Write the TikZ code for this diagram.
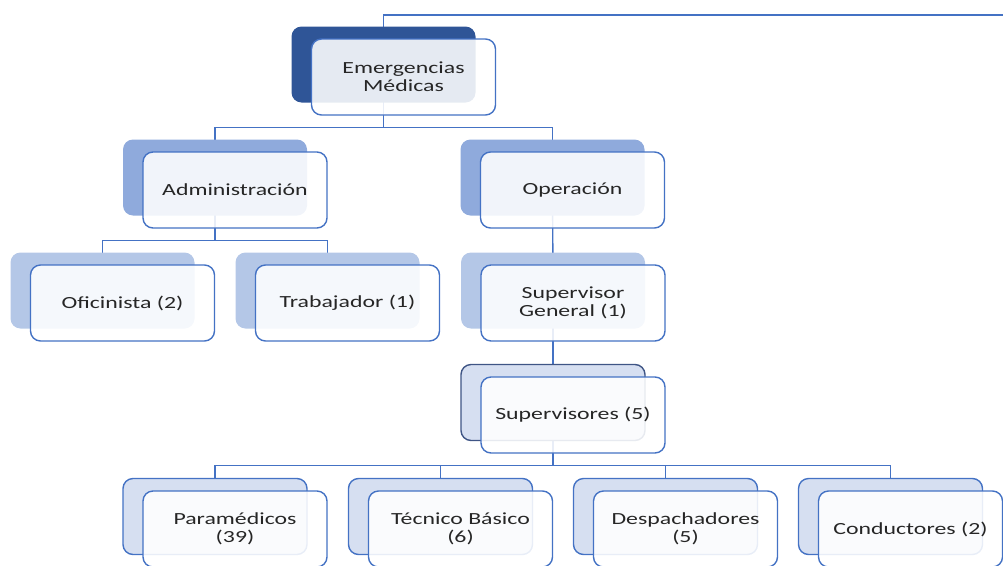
\documentclass[tikz,border=0pt]{standalone}
\usepackage{fontspec}
\setmainfont{Carlito}[FakeStretch=1.4]
\usetikzlibrary{positioning, backgrounds, calc}

\definecolor{azulOscuro}{HTML}{2F5597}
\definecolor{azulMedio}{HTML}{8FAADC}
\definecolor{azulClaro}{HTML}{B4C7E7}
\definecolor{azulPalido}{HTML}{D6DFF1}
\definecolor{bordeAzul}{HTML}{4472C4}
\definecolor{bordeGris}{HTML}{3F5585}

\tikzset{
  fondo/.style={rounded corners=10pt, minimum width=184pt, minimum height=76pt, inner sep=0pt},
  fondoOsc/.style={fondo, fill=azulOscuro},
  fondoMed/.style={fondo, fill=azulMedio},
  fondoCla/.style={fondo, fill=azulClaro},
  fondoPal/.style={fondo, fill=azulPalido, draw=bordeAzul, line width=1.4pt},
  fondoSup/.style={fondo, fill=azulPalido, draw=bordeGris, line width=1.4pt},
  caja/.style={draw=bordeAzul, line width=1.4pt, rounded corners=10pt, fill=white, fill opacity=0.88, text opacity=1,
    minimum width=184pt, minimum height=76pt, inner sep=0pt, align=center, text=black!85,
    font=\fontsize{17}{18}\selectfont},
  linea/.style={draw=bordeAzul, line width=1.4pt},
}

\begin{document}
\begin{tikzpicture}[x=1pt, y=-1pt]
    % Limites del grafico
    \useasboundingbox (0,0) rectangle (1003,565);

    % Nivel 1
    \node[fondoOsc] (emeB) at (383.5,64.5) {};
    \node[caja] (eme) at ([shift={(20,12.5)}]emeB) {Emergencias\\Médicas};

    % Nivel 2
    \node[fondoMed] (admB) at (215,177.5) {};
    \node[caja] (adm) at ([shift={(20,12.5)}]admB) {Administración};
    \node[fondoMed] (opeB) at (552.5,177.5) {};
    \node[caja] (ope) at ([shift={(20,12.5)}]opeB) {Operación};

    % Nivel 3
    \node[fondoCla] (ofiB) at (102.5,290.5) {};
    \node[caja] (ofi) at ([shift={(20,12.5)}]ofiB) {Oficinista (2)};
    \node[fondoCla] (traB) at (327.5,290.5) {};
    \node[caja] (tra) at ([shift={(20,12.5)}]traB) {Trabajador (1)};
    \node[fondoCla] (sgB) at (553,290.5) {};
    \node[caja] (sg) at ([shift={(20,12.5)}]sgB) {Supervisor\\General (1)};

    % Nivel 4
    \node[fondoSup] (supB) at (553,402.5) {};
    \node[caja] (sup) at ([shift={(20,12.5)}]supB) {Supervisores (5)};

    % Nivel 5
    \node[fondoPal] (parB) at (215,516.5) {};
    \node[caja] (par) at ([shift={(20,12.5)}]parB) {Paramédicos\\(39)};
    \node[fondoPal] (tecB) at (440.5,516.5) {};
    \node[caja] (tec) at ([shift={(20,12.5)}]tecB) {Técnico Básico\\(6)};
    \node[fondoPal] (desB) at (665.5,516.5) {};
    \node[caja] (des) at ([shift={(20,12.5)}]desB) {Despachadores\\(5)};
    \node[fondoPal] (conB) at (890.5,516.5) {};
    \node[caja] (con) at ([shift={(20,12.5)}]conB) {Conductores (2)};

    % Conectores detras de las cajas
    \begin{scope}[on background layer]
        \coordinate (topR) at (1003,15);
        \coordinate (emeBar) at ([yshift=-12pt]eme.south);
        \coordinate (admBar) at ([yshift=-12pt]adm.south);
        \coordinate (supBar) at ([yshift=-12pt]sup.south);

        \draw[linea] (emeB.center) |- (topR);
        \draw[linea] (emeB.center) -- (emeB.center |- emeBar) -| (admB.center);
        \draw[linea] (emeB.center |- emeBar) -| (opeB.center);

        \draw[linea] (admB.center) -- (admB.center |- admBar) -| (ofiB.center);
        \draw[linea] (admB.center |- admBar) -| (traB.center);

        \draw[linea] (opeB.center) -- (sgB.center);
        \draw[linea] (sgB.center) -- (supB.center);

        \draw[linea] (supB.center) -- (supB.center |- supBar) -| (parB.center);
        \draw[linea] (supB.center |- supBar) -| (tecB.center);
        \draw[linea] (supB.center |- supBar) -| (desB.center);
        \draw[linea] (supB.center |- supBar) -| (conB.center);
    \end{scope}
\end{tikzpicture}
\end{document}
